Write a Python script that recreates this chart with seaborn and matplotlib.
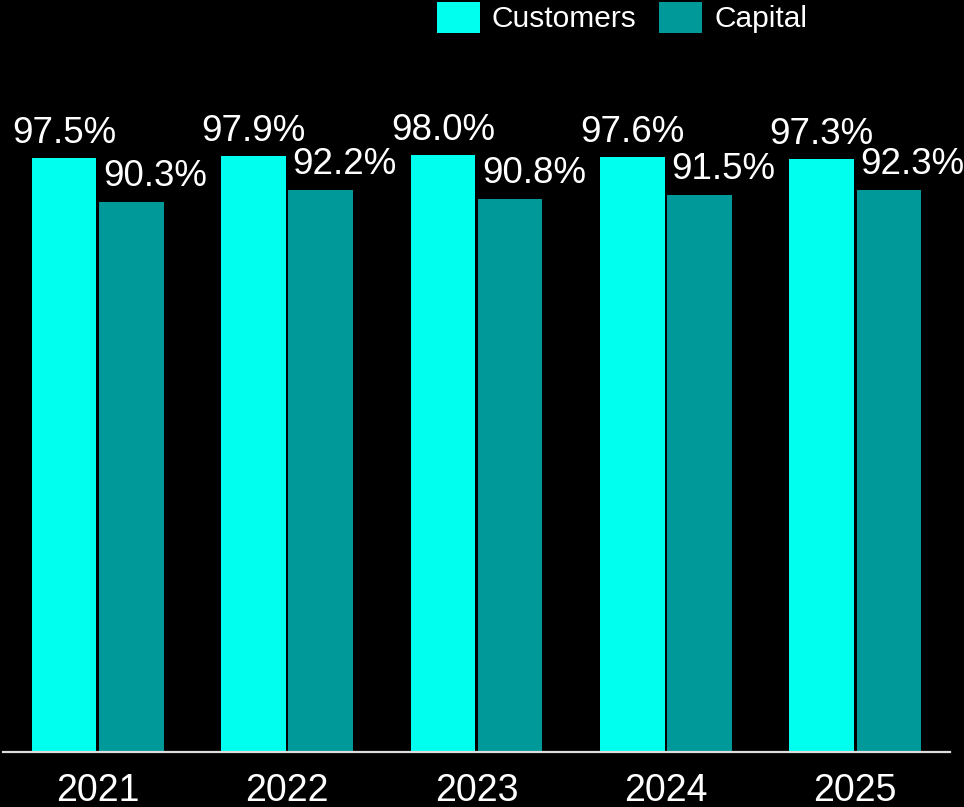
import matplotlib
matplotlib.use("Agg")
import matplotlib.pyplot as plt
from matplotlib.patches import Patch
import seaborn as sns
import pandas as pd

years = ["2021", "2022", "2023", "2024", "2025"]
customers = [97.5, 97.9, 98.0, 97.6, 97.3]
capital = [90.3, 92.2, 90.8, 91.5, 92.3]
series_names = ["Customers", "Capital"]
colors = ["#00FFEE", "#009999"]

df = pd.DataFrame({
    "year": years * 2,
    "value": customers + capital,
    "series": [series_names[0]] * len(years) + [series_names[1]] * len(years),
})

sns.set_theme(style="dark")
plt.rcParams["font.family"] = ["Liberation Sans", "DejaVu Sans"]

W, H = 964, 807
fig = plt.figure(figsize=(W / 100, H / 100), dpi=100, facecolor="black")
ax = fig.add_axes([3 / W, (H - 752) / H, (950 - 3) / W, (752 - 51.4) / H])
ax.set_facecolor("black")

sns.barplot(data=df, x="year", y="value", hue="series", palette=colors,
            width=0.71, gap=0.04, ax=ax, legend=False, saturation=1,
            linewidth=0, edgecolor="none")

ax.set_xlim(-0.5, 4.5)
ax.set_ylim(0, 115)
ax.set_xlabel("")
ax.set_ylabel("")
ax.set_yticks([])
ax.grid(False)
for side in ["top", "left", "right"]:
    ax.spines[side].set_visible(False)
ax.spines["bottom"].set_color("#dddddd")
ax.spines["bottom"].set_linewidth(1.6)
ax.tick_params(axis="x", colors="white", labelsize=27, length=0, pad=15)

# value labels: customers centred above the bar, capital starting at its left edge
px = 0.72
for cont, name in zip(ax.containers, series_names):
    for bar in cont:
        v = bar.get_height()
        txt = f"{v:.1f}%"
        if name == "Customers":
            ax.annotate(txt, (bar.get_x() + bar.get_width() / 2, v),
                        xytext=(0, 7 * px), textcoords="offset points",
                        ha="center", va="bottom", color="white", fontsize=26.5)
        else:
            ax.annotate(txt, (bar.get_x(), v),
                        xytext=(4 * px, 8 * px), textcoords="offset points",
                        ha="left", va="bottom", color="white", fontsize=26.5)

handles = [Patch(facecolor=c, edgecolor="none") for c in colors]
leg = fig.legend(handles, series_names, loc="upper left",
                 bbox_to_anchor=(437 / W, 1 - 2 / H), ncol=2, frameon=False,
                 fontsize=21.5, handlelength=1.44, handleheight=1.2,
                 handletextpad=0.4, columnspacing=0.75, borderpad=0,
                 borderaxespad=0)
for t in leg.get_texts():
    t.set_color("white")

fig.savefig("out.png", dpi=100, facecolor="black")
